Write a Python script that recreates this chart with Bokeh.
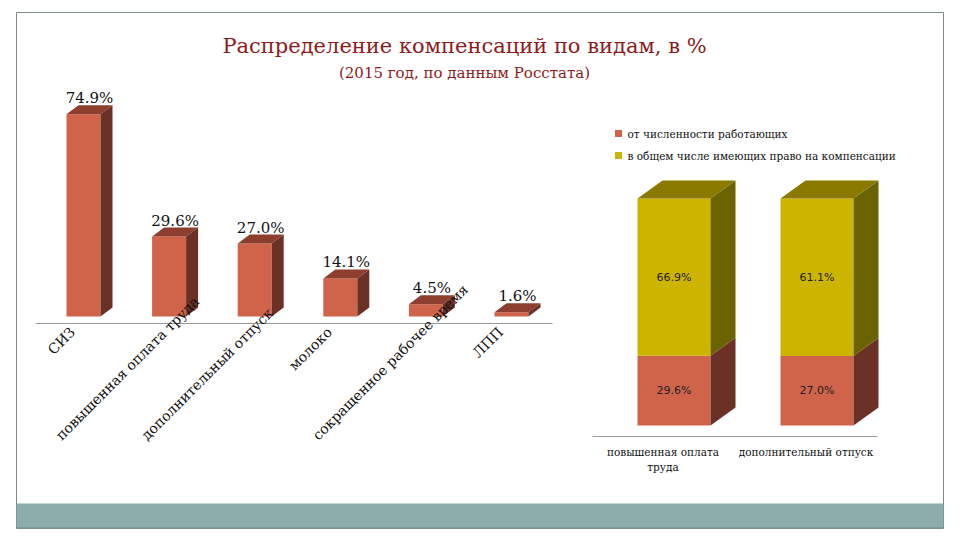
import math
from bokeh.plotting import figure
from bokeh.models import Range1d, Label
from bokeh.core.properties import value
from bokeh.embed import file_html
from bokeh.resources import INLINE

# ---------------- data ----------------
title_text = "Распределение компенсаций по видам, в %"
subtitle_text = "(2015 год, по данным Росстата)"

cats1 = ["СИЗ", "повышенная оплата труда", "дополнительный отпуск",
         "молоко", "сокращенное рабочее время", "ЛПП"]
vals1 = [74.9, 29.6, 27.0, 14.1, 4.5, 1.6]

cats2 = ["повышенная оплата\nтруда", "дополнительный отпуск"]
series_names = ["от численности работающих",
                "в общем числе имеющих право на компенсации"]
workers = [29.6, 27.0]
eligible = [66.9, 61.1]

# ---------------- styles ----------------
SERIF = value("DejaVu Serif")
RED_FRONT, RED_TOP, RED_SIDE = "#D0644B", "#8E3E2E", "#6C3126"
YEL_FRONT, YEL_TOP, YEL_SIDE = "#CCB400", "#8A7A00", "#6B6200"
TITLE_COLOR = "#8E1B1B"

# frame in page pixels
FX0, FX1, FY0, FY1 = 16, 943, 12, 528


def xrange_for(anchor_px, px_per_unit):
    return Range1d((FX0 - anchor_px) / px_per_unit, (FX1 - anchor_px) / px_per_unit)


def yrange_for(anchor_px, px_per_unit):
    return Range1d((anchor_px - FY1) / px_per_unit, (anchor_px - FY0) / px_per_unit)


# left chart scale
L_X0, L_DX_PX = 83, 85.6          # first category centre, category spacing
L_Y0, L_PPU = 316, 2.70           # zero line, px per percent
# right chart scale
R_X0, R_DX_PX = 673.5, 143.0
R_Y0, R_PPU = 425, 2.27

p = figure(width=952, height=532,
           x_range=Range1d(FX0, FX1), y_range=Range1d(FY1, FY0),
           output_backend="svg", toolbar_location=None,
           x_axis_location=None, y_axis_location=None,
           min_border_left=16, min_border_right=9,
           min_border_top=12, min_border_bottom=4)
p.grid.visible = False
p.outline_line_color = "#7F8C8C"
p.outline_line_width = 1
p.background_fill_color = "white"
p.border_fill_color = "white"

p.extra_x_ranges = {"c1": xrange_for(L_X0, L_DX_PX), "c2": xrange_for(R_X0, R_DX_PX)}
p.extra_y_ranges = {"v1": yrange_for(L_Y0, L_PPU), "v2": yrange_for(R_Y0, R_PPU)}

# ---------------- title ----------------
p.add_layout(Label(x=464, y=45, text=title_text, text_align="center",
                   text_baseline="middle", text_font="DejaVu Serif",
                   text_font_size="21px", text_color=TITLE_COLOR))
p.add_layout(Label(x=464, y=72, text=subtitle_text, text_align="center",
                   text_baseline="middle", text_font="DejaVu Serif",
                   text_font_size="15px", text_color=TITLE_COLOR))

# ---------------- left 3D column chart ----------------
hw1 = 17 / L_DX_PX
dx1 = 12 / L_DX_PX
dy1 = 9 / L_PPU
idx1 = list(range(len(cats1)))

p.quad(left=[i - hw1 for i in idx1], right=[i + hw1 for i in idx1],
       bottom=0, top=vals1, fill_color=RED_FRONT, line_color=None,
       x_range_name="c1", y_range_name="v1")
top_xs = [[i - hw1, i + hw1, i + hw1 + dx1, i - hw1 + dx1] for i in idx1]
top_ys = [[v, v, v + dy1, v + dy1] for v in vals1]
p.patches(top_xs, top_ys, fill_color=RED_TOP, line_color=None,
          x_range_name="c1", y_range_name="v1")
side_xs = [[i + hw1, i + hw1 + dx1, i + hw1 + dx1, i + hw1] for i in idx1]
side_ys = [[0, dy1, v + dy1, v] for v in vals1]
p.patches(side_xs, side_ys, fill_color=RED_SIDE, line_color=None,
          x_range_name="c1", y_range_name="v1")

# baseline
p.segment(x0=[-0.56], y0=[-7 / L_PPU], x1=[len(cats1) - 0.52], y1=[-7 / L_PPU],
          line_color="#9A9A9A", line_width=1.2,
          x_range_name="c1", y_range_name="v1")

# value labels
p.text(x=[i + dx1 / 2 for i in idx1], y=[v + dy1 for v in vals1],
       text=[f"{v:.1f}%" for v in vals1], text_align="center",
       text_baseline="alphabetic", y_offset=-7,
       text_font=SERIF, text_font_size="15px", text_color="#111111",
       x_range_name="c1", y_range_name="v1")

# category labels (rotated 45°)
short_i = [i for i in idx1 if len(cats1[i]) <= 15]
long_i = [i for i in idx1 if len(cats1[i]) > 15]
p.text(x=short_i, y=[0] * len(short_i), text=[cats1[i] for i in short_i],
       angle=math.pi / 4, text_align="right", text_baseline="middle",
       x_offset=-11, y_offset=13,
       text_font=SERIF, text_font_size="14px", text_color="#111111",
       x_range_name="c1", y_range_name="v1")
p.text(x=long_i, y=[0] * len(long_i), text=[cats1[i] for i in long_i],
       angle=math.pi / 4, text_align="left", text_baseline="middle",
       x_offset=-111, y_offset=121,
       text_font=SERIF, text_font_size="14px", text_color="#111111",
       x_range_name="c1", y_range_name="v1")

# ---------------- right 100% stacked 3D chart ----------------
idx2 = list(range(len(cats2)))
share_w = [w / (w + e) * 100 for w, e in zip(workers, eligible)]
hw2 = 36.5 / R_DX_PX
dx2 = 25 / R_DX_PX
dy2 = 18 / R_PPU

p.quad(left=[i - hw2 for i in idx2], right=[i + hw2 for i in idx2],
       bottom=0, top=share_w, fill_color=RED_FRONT, line_color=None,
       x_range_name="c2", y_range_name="v2")
p.quad(left=[i - hw2 for i in idx2], right=[i + hw2 for i in idx2],
       bottom=share_w, top=100, fill_color=YEL_FRONT, line_color=None,
       x_range_name="c2", y_range_name="v2")
p.patches([[i + hw2, i + hw2 + dx2, i + hw2 + dx2, i + hw2] for i in idx2],
          [[0, dy2, s + dy2, s] for s in share_w],
          fill_color=RED_SIDE, line_color=None,
          x_range_name="c2", y_range_name="v2")
p.patches([[i + hw2, i + hw2 + dx2, i + hw2 + dx2, i + hw2] for i in idx2],
          [[s, s + dy2, 100 + dy2, 100] for s in share_w],
          fill_color=YEL_SIDE, line_color=None,
          x_range_name="c2", y_range_name="v2")
p.patches([[i - hw2, i + hw2, i + hw2 + dx2, i - hw2 + dx2] for i in idx2],
          [[100, 100, 100 + dy2, 100 + dy2] for _ in idx2],
          fill_color=YEL_TOP, line_color=None,
          x_range_name="c2", y_range_name="v2")

p.segment(x0=[-0.57], y0=[-11 / R_PPU], x1=[len(cats2) - 0.577], y1=[-11 / R_PPU],
          line_color="#9A9A9A", line_width=1.2,
          x_range_name="c2", y_range_name="v2")

p.text(x=idx2, y=[s / 2 for s in share_w], text=[f"{w:.1f}%" for w in workers],
       text_align="center", text_baseline="middle",
       text_font=value("DejaVu Sans"), text_font_size="11px", text_color="#222222",
       x_range_name="c2", y_range_name="v2")
p.text(x=idx2, y=[(s + 100) / 2 for s in share_w], text=[f"{e:.1f}%" for e in eligible],
       text_align="center", text_baseline="middle",
       text_font=value("DejaVu Sans"), text_font_size="11px", text_color="#222222",
       x_range_name="c2", y_range_name="v2")

p.text(x=idx2, y=[0] * len(idx2), text=cats2, text_align="center",
       text_baseline="top", x_offset=-11, y_offset=20, text_line_height=1.25,
       text_font=SERIF, text_font_size="10.5px", text_color="#111111",
       x_range_name="c2", y_range_name="v2")

# legend
p.scatter(x=[618, 618], y=[133, 155], marker="square", size=7,
          fill_color=[RED_FRONT, YEL_FRONT], line_color=None)
p.text(x=[627, 627], y=[133, 155], text=series_names, text_align="left",
       text_baseline="middle", text_font=SERIF, text_font_size="10.5px",
       text_color="#111111")

# bottom band of the slide
p.quad(left=[FX0], right=[FX1], top=[503], bottom=[FY1],
       fill_color="#8DADAD", line_color=None)
p.segment(x0=[FX0], y0=[527.5], x1=[FX1], y1=[527.5], line_color="#6F8A8A", line_width=1)

open("out.html", "w").write(file_html(p, INLINE))
